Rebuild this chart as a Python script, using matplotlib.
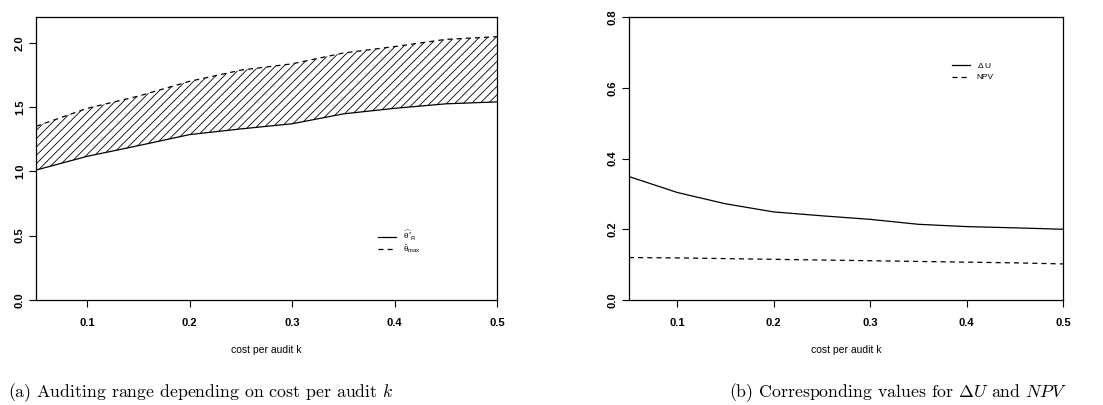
import matplotlib
matplotlib.use('Agg')
import matplotlib.pyplot as plt

plt.rcParams['font.family'] = ['Liberation Sans', 'DejaVu Sans']
plt.rcParams['mathtext.fontset'] = 'custom'
plt.rcParams['mathtext.rm'] = 'Liberation Sans'
plt.rcParams['mathtext.it'] = 'Liberation Sans'
plt.rcParams['hatch.linewidth'] = 0.6
plt.rcParams['lines.scale_dashes'] = False

# cost per audit k
k = [0.05, 0.10, 0.15, 0.20, 0.25, 0.30, 0.35, 0.40, 0.45, 0.50]

# panel (a)
theta_r = [1.01, 1.117, 1.20, 1.286, 1.33, 1.37, 1.447, 1.49, 1.525, 1.54]
theta_max = [1.35, 1.49, 1.585, 1.70, 1.787, 1.836, 1.92, 1.97, 2.026, 2.047]

# panel (b)
delta_u = [0.349, 0.304, 0.272, 0.249, 0.238, 0.228, 0.214, 0.2075, 0.204, 0.200]
npv = [0.120, 0.119, 0.117, 0.115, 0.113, 0.111, 0.109, 0.107, 0.105, 0.102]

xticks = [0.1, 0.2, 0.3, 0.4, 0.5]
dash = (0, (3.6, 3.0))

W, H = 1103, 405
fig = plt.figure(figsize=(W / 100, H / 100), dpi=100)
ax1 = fig.add_axes([36 / W, 105 / H, 461 / W, 283 / H])
ax2 = fig.add_axes([629 / W, 105 / H, 434 / W, 283 / H])


def style(ax, yticks):
    ax.set_xlim(0.05, 0.5)
    ax.set_xticks(xticks)
    ax.set_xticklabels([str(t) for t in xticks], fontweight='bold')
    ax.set_yticks(yticks)
    ax.set_yticklabels([f'{t:.1f}' for t in yticks], rotation=90, va='center',
                       fontweight='bold')
    ax.tick_params(direction='out', length=5, width=0.8, labelsize=8, pad=8)
    ax.tick_params(axis='y', pad=3)
    for s in ax.spines.values():
        s.set_linewidth(0.9)
    ax.set_xlabel('cost per audit k', fontsize=7.5, labelpad=12)


# (a) auditing range
ax1.fill_between(k, theta_r, theta_max, facecolor='none', edgecolor='black',
                 hatch='////', linewidth=0)
ax1.plot(k, theta_r, color='k', ls='-', lw=0.9, label=r'$\widehat{\theta^{*}}_{R}$')
ax1.plot(k, theta_max, color='k', ls=dash, lw=0.9, label=r'$\hat{\theta}_{max}$')
ax1.set_ylim(0, 2.2)
style(ax1, [0.0, 0.5, 1.0, 1.5, 2.0])
ax1.legend(loc='upper left', bbox_to_anchor=(0.725, 0.278), frameon=False,
           fontsize=6, handlelength=2.2, labelspacing=0.05)

# (b) delta U and NPV
ax2.plot(k, delta_u, color='k', ls='-', lw=0.9, label=r'$\Delta$ U')
ax2.plot(k, npv, color='k', ls=dash, lw=0.9, label='NPV')
ax2.set_ylim(0, 0.8)
style(ax2, [0.0, 0.2, 0.4, 0.6, 0.8])
ax2.legend(loc='upper left', bbox_to_anchor=(0.726, 0.87), frameon=False,
           fontsize=6, handlelength=2.2, labelspacing=0.4)

fig.text(8 / W, 1 - 397 / H, r'(a) Auditing range depending on cost per audit $k$',
         ha='left', va='baseline', fontsize=12.8, family='cmr10',
         math_fontfamily='cm')
fig.text(1067 / W, 1 - 397 / H, r'(b) Corresponding values for $\Delta U$ and $NPV$',
         ha='right', va='baseline', fontsize=12.8, family='cmr10',
         math_fontfamily='cm')

fig.savefig('out.png', dpi=100)
